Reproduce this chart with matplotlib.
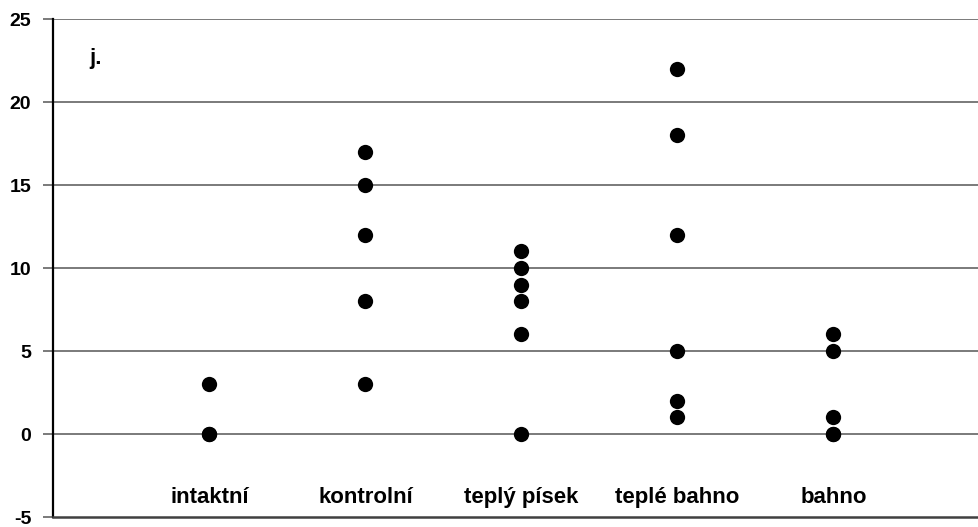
import matplotlib
matplotlib.use("Agg")
import matplotlib.pyplot as plt

plt.rcParams['font.family'] = ['Liberation Sans', 'DejaVu Sans']

categories = ["intaktní", "kontrolní", "teplý písek", "teplé bahno", "bahno"]
values = [
    [3, 0, 0],
    [17, 15, 12, 8, 3],
    [11, 10, 9, 8, 6, 0],
    [22, 18, 12, 5, 2, 1],
    [6, 5, 1, 0, 0],
]
y_ticks = [-5, 0, 5, 10, 15, 20, 25]
unit_label = "j."

W, H = 979, 527
fig = plt.figure(figsize=(W / 100, H / 100), dpi=100)
left, right, top, bottom = 53.5, 979, 19, 517
ax = fig.add_axes([left / W, 1 - bottom / H, (right - left) / W, (bottom - top) / H])

ax.set_ylim(-5, 25)
ax.set_xlim(0, (right - left) / 156.0)

for yt in y_ticks[1:]:
    ax.axhline(yt, color="#707070", lw=1.3, zorder=1)

for i, vals in enumerate(values, start=1):
    ax.plot([i] * len(vals), vals, 'o', color='black', markersize=11,
            markeredgewidth=0, zorder=3)
    ax.text(i, -3.85, categories[i - 1], ha='center', va='center',
            fontsize=16, fontweight='bold')

ax.text(0.23, 22.6, unit_label, ha='left', va='center', fontsize=16,
        fontweight='bold')

ax.set_yticks(y_ticks)
ax.set_yticklabels([str(t) for t in y_ticks], fontsize=14, fontweight='bold')
ax.tick_params(axis='y', direction='out', length=7, width=1.3, color='#707070', pad=9)
ax.set_xticks([])

for s in ['top', 'right']:
    ax.spines[s].set_visible(False)
ax.spines['left'].set_color('black')
ax.spines['left'].set_linewidth(1.6)
ax.spines['bottom'].set_color('#404040')
ax.spines['bottom'].set_linewidth(1.8)

fig.savefig("out.png", dpi=100)
